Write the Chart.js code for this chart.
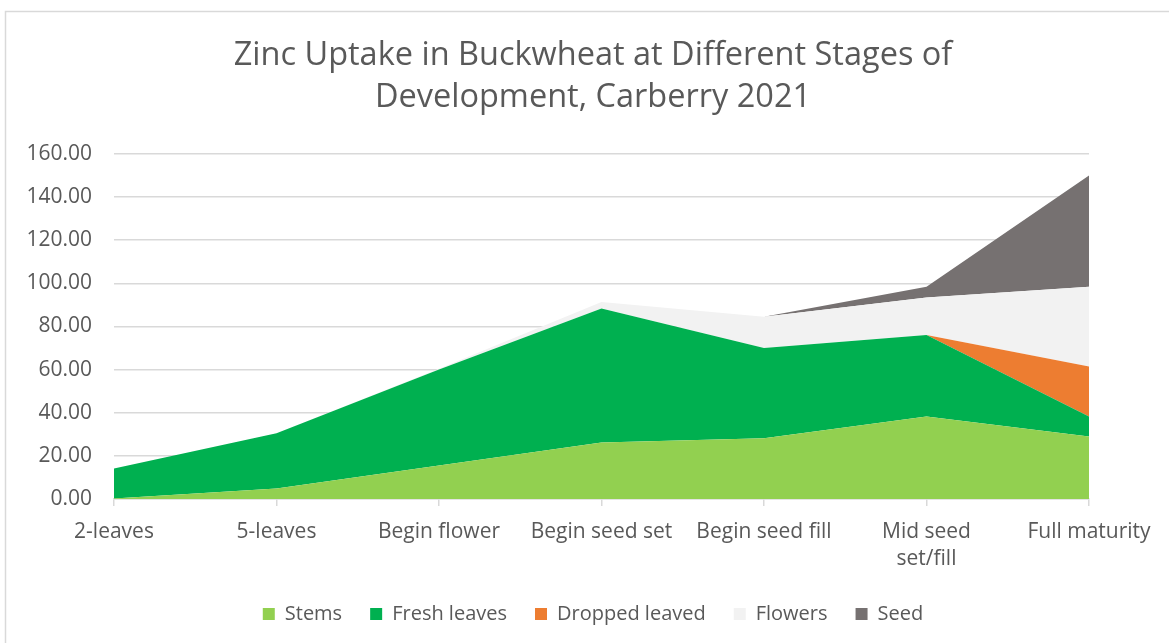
<!DOCTYPE html>
<html>
<head>
<meta charset="utf-8">
<script src="https://cdn.jsdelivr.net/npm/chart.js@4.4.1/dist/chart.umd.min.js"></script>
<style>
  html, body { margin: 0; padding: 0; background: #ffffff; }
  #wrap { position: absolute; left: 0; top: 0; width: 1169px; height: 643px; }
</style>
</head>
<body>
<div id="wrap"><canvas id="chart" width="1169" height="643"></canvas></div>
<script>
// Growth stages along the x axis
const stages = ['2-leaves', '5-leaves', 'Begin flower', 'Begin seed set', 'Begin seed fill', ['Mid seed', 'set/fill'], 'Full maturity'];

// Zinc uptake per plant part at each stage (stacked)
const stems         = [0.2, 4.9, 15.5, 26.2, 28.2, 38.3, 29.0];
const freshLeaves   = [14.0, 25.6, 44.5, 62.2, 41.8, 37.8, 9.3];
const droppedLeaves = [0, 0, 0, 0, 0, 0, 23.2];
const flowers       = [0, 0, 0.4, 3.0, 14.5, 17.4, 36.9];
const seed          = [0, 0, 0, 0, 0, 4.9, 51.6];

const seriesNames = ['Stems', 'Fresh leaves', 'Dropped leaved', 'Flowers', 'Seed'];
const titleLines = ['Zinc Uptake in Buckwheat at Different Stages of', 'Development, Carberry 2021'];

const FONT = '"Open Sans", Lato, sans-serif';
const TEXT = '#595959';
const GRID = '#d9d9d9';

// Light frame around the whole chart
const framePlugin = {
  id: 'frame',
  beforeDraw(chart) {
    const ctx = chart.ctx;
    ctx.save();
    ctx.fillStyle = '#ffffff';
    ctx.fillRect(0, 0, chart.width, chart.height);
    ctx.strokeStyle = GRID;
    ctx.lineWidth = 1.5;
    ctx.strokeRect(5.5, 11.5, chart.width + 20, chart.height + 20);
    ctx.restore();
  }
};

function area(label, data, color, fill) {
  return {
    label: label,
    data: data,
    backgroundColor: color,
    borderColor: color,
    borderWidth: 0,
    pointRadius: 0,
    pointHoverRadius: 0,
    tension: 0,
    fill: fill
  };
}

new Chart(document.getElementById('chart'), {
  type: 'line',
  data: {
    labels: stages,
    datasets: [
      area(seriesNames[0], stems, '#92d050', 'origin'),
      area(seriesNames[1], freshLeaves, '#00b050', '-1'),
      area(seriesNames[2], droppedLeaves, '#ed7d31', '-1'),
      area(seriesNames[3], flowers, '#f2f2f2', '-1'),
      area(seriesNames[4], seed, '#767171', '-1')
    ]
  },
  options: {
    responsive: false,
    animation: false,
    events: [],
    layout: { padding: { left: 17, right: 0, top: 0, bottom: 9 } },
    plugins: {
      title: {
        display: true,
        text: titleLines,
        color: TEXT,
        font: { family: FONT, size: 32.5, weight: 'normal', lineHeight: 1.292 },
        padding: { top: 35, bottom: 35 }
      },
      legend: {
        display: true,
        position: 'bottom',
        labels: {
          color: TEXT,
          font: { family: FONT, size: 20 },
          boxWidth: 12,
          boxHeight: 12,
          padding: 28
        }
      },
      tooltip: { enabled: false },
      filler: { propagate: false }
    },
    scales: {
      x: {
        offset: false,
        afterFit(scale) { scale.height = 77; },
        grid: {
          display: true,
          drawOnChartArea: false,
          drawTicks: true,
          tickLength: 7,
          color: GRID,
          lineWidth: 1.5
        },
        border: { display: true, color: GRID, width: 1.5 },
        ticks: {
          color: TEXT,
          font: { family: FONT, size: 21, lineHeight: 1.3 },
          padding: 12,
          maxRotation: 0,
          autoSkip: false
        }
      },
      y: {
        stacked: true,
        min: 0,
        max: 160,
        afterFit(scale) { scale.width = 97; },
        grid: {
          color: GRID,
          lineWidth: 1.5,
          drawTicks: false
        },
        border: { display: false },
        ticks: {
          stepSize: 20,
          color: TEXT,
          font: { family: FONT, size: 21 },
          padding: 22,
          callback: (v) => Number(v).toFixed(2)
        }
      },
      // empty right-hand margin beside the plot
      yRight: {
        position: 'right',
        display: true,
        afterFit(scale) { scale.width = 80; },
        grid: { display: false, drawTicks: false },
        border: { display: false },
        ticks: { display: false }
      }
    }
  },
  plugins: [framePlugin]
});
</script>
</body>
</html>
